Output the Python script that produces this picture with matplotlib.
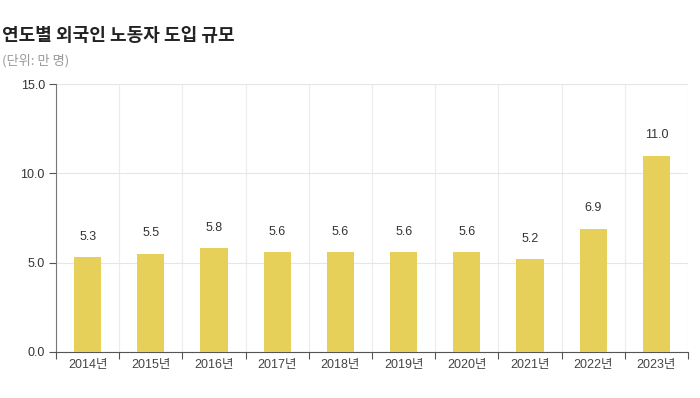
import matplotlib
matplotlib.use("Agg")
import matplotlib.pyplot as plt
import numpy as np

plt.rcParams['font.family'] = ['Liberation Sans', 'Noto Sans CJK KR', 'DejaVu Sans']

years = ['2014년', '2015년', '2016년', '2017년', '2018년', '2019년', '2020년', '2021년', '2022년', '2023년']
values = [5.3, 5.5, 5.8, 5.6, 5.6, 5.6, 5.6, 5.2, 6.9, 11.0]
yticks = [0.0, 5.0, 10.0, 15.0]

fig = plt.figure(figsize=(7, 3.98), dpi=100)
ax = fig.add_axes([0.08, 0.1156, 0.903, 0.673])

x = np.arange(len(years))
bars = ax.bar(x, values, width=0.43, color='#E6D05A', zorder=3)
for xi, v in zip(x, values):
    ax.text(xi, v + 0.8, f'{v:.1f}', ha='center', va='bottom', fontsize=9, color='#333333', zorder=4)

ax.set_xlim(-0.5, len(years) - 0.5)
ax.set_ylim(0, 15)
ax.set_yticks(yticks)
ax.set_yticklabels([f'{t:.1f}' for t in yticks], fontsize=9, color='#333333')
ax.set_xticks(x)
ax.set_xticklabels(years, fontsize=9, color='#444444')
ax.tick_params(axis='x', which='major', length=0, pad=5)
ax.set_xticks(np.arange(-0.5, len(years), 1.0), minor=True)
ax.tick_params(axis='x', which='minor', length=5, color='#555555', width=0.8)
ax.tick_params(axis='y', length=5, color='#555555', width=0.8, pad=3)

ax.grid(axis='y', color='#e6e6e6', linewidth=0.8, zorder=0)
ax.grid(axis='x', which='minor', color='#ececec', linewidth=0.8, zorder=0)
for s in ['top', 'right']:
    ax.spines[s].set_visible(False)
ax.spines['left'].set_color('#777777')
ax.spines['left'].set_linewidth(0.8)
ax.spines['bottom'].set_color('#555555')
ax.spines['bottom'].set_linewidth(0.8)

fig.text(0.003, 0.912, '연도별 외국인 노동자 도입 규모', fontsize=13, fontweight='bold',
         family=['Noto Sans CJK KR', 'DejaVu Sans'], color='#222222', va='center')
fig.text(0.003, 0.848, '(단위: 만 명)', fontsize=9.5, family=['Noto Sans CJK KR', 'DejaVu Sans'],
         color='#999999', va='center')

fig.savefig('out.png', dpi=100, facecolor='white')
